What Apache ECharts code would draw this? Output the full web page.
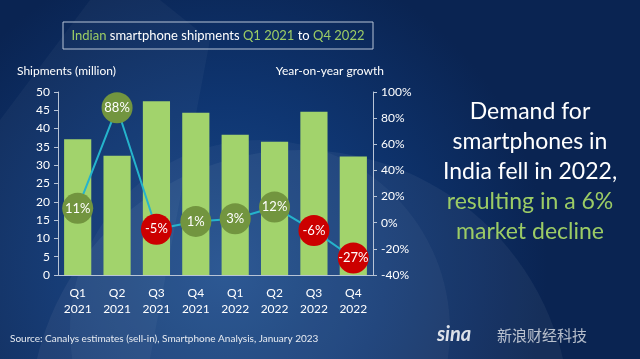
<!DOCTYPE html>
<html><head><meta charset="utf-8">
<script src="https://cdn.jsdelivr.net/npm/echarts@6/dist/echarts.min.js"></script>
<style>html,body{margin:0;padding:0;background:#0b2a58;}#c{width:640px;height:359px;}</style>
</head><body><div id="c"></div>
<script>
var quarters = ['Q1\n2021','Q2\n2021','Q3\n2021','Q4\n2021','Q1\n2022','Q2\n2022','Q3\n2022','Q4\n2022'];
var shipments = [37.1, 32.6, 47.5, 44.3, 38.3, 36.4, 44.6, 32.4];
var growth = [11, 88, -5, 1, 3, 12, -6, -27];
var leftTicks = [0,5,10,15,20,25,30,35,40,45,50];
var rightTicks = [-40,-20,0,20,40,60,80,100];

var F = 'Lato, "Open Sans", sans-serif';
var chart = echarts.init(document.getElementById('c'));
chart.setOption({
  backgroundColor: {type:'radial', x:0.35, y:0.75, r:0.9, colorStops:[{offset:0,color:'#1a4a8a'},{offset:0.5,color:'#0f3672'},{offset:1,color:'#0a2452'}]},
  textStyle:{fontFamily:F},
  graphic:[
    {type:'circle', shape:{cx:300,cy:420,r:270}, style:{fill:'rgba(255,255,255,0.05)'}, silent:true, z:-10},
    {type:'circle', shape:{cx:260,cy:330,r:190}, style:{fill:'rgba(255,255,255,0.04)'}, silent:true, z:-10},
    {type:'polygon', shape:{points:[[0,120],[0,359],[150,359],[210,40],[160,0],[90,0]]}, style:{fill:'rgba(255,255,255,0.035)'}, silent:true, z:-10},
    {type:'rect', shape:{x:63,y:22,width:310,height:27}, style:{fill:'transparent', stroke:'#b8c4d6', lineWidth:1}},
    {type:'text', x:218, y:35.5, style:{text:'{g|Indian} smartphone shipments {g|Q1 2021} to {g|Q4 2022}', align:'center', verticalAlign:'middle', fill:'#ffffff', font:'13px '+F, rich:{g:{fill:'#9ccc65', fontSize:13, fontFamily:F}}}},
    {type:'text', x:17, y:71, style:{text:'Shipments (million)', fill:'#ffffff', font:'12px '+F, verticalAlign:'middle'}},
    {type:'text', x:384, y:71, style:{text:'Year-on-year growth', fill:'#ffffff', font:'12px '+F, align:'right', verticalAlign:'middle'}},
    {type:'text', x:530, y:172, style:{text:'{w|Demand for}\n{w|smartphones in}\n{w|India fell in 2022,}\n{g|resulting in a 6%}\n{g|market decline}', align:'center', verticalAlign:'middle', lineHeight:30, rich:{w:{fill:'#ffffff', fontSize:23, fontFamily:F, lineHeight:30}, g:{fill:'#9ccc65', fontSize:23, fontFamily:F, lineHeight:30}}}},
    {type:'text', x:10, y:339, style:{text:'Source: Canalys estimates (sell-in), Smartphone Analysis, January 2023', fill:'#e8ecf2', font:'10px '+F, verticalAlign:'middle'}},
    {type:'text', x:437, y:335, style:{text:'sina', fill:'rgba(255,255,255,0.85)', font:'italic bold 20px '+F, verticalAlign:'middle'}},
    {type:'text', x:497, y:335, style:{text:'新浪财经科技', fill:'rgba(255,255,255,0.7)', font:'15px "Noto Sans CJK SC"', verticalAlign:'middle'}}
  ],
  grid:{left:58, right:267, top:92, bottom:84},
  xAxis:{type:'category', data:quarters,
    axisLine:{lineStyle:{color:'#b8c4d6'}}, axisTick:{show:false},
    axisLabel:{color:'#ffffff', fontSize:12, lineHeight:16, margin:10, fontFamily:F}},
  yAxis:[
    {type:'value', min:0, max:50, interval:5, splitLine:{show:false},
     axisLine:{show:true, lineStyle:{color:'#b8c4d6'}}, axisTick:{show:true, length:4, lineStyle:{color:'#b8c4d6'}},
     axisLabel:{color:'#ffffff', fontSize:12, margin:8, fontFamily:F}},
    {type:'value', min:-40, max:100, interval:20, splitLine:{show:false},
     axisLine:{show:true, lineStyle:{color:'#b8c4d6'}}, axisTick:{show:true, length:4, lineStyle:{color:'#b8c4d6'}},
     axisLabel:{color:'#ffffff', fontSize:12, margin:8, fontFamily:F, formatter:'{value}%'}}
  ],
  series:[
    {type:'bar', data:shipments, barWidth:'69%', itemStyle:{color:'#a2d36c'}, yAxisIndex:0},
    {type:'line', yAxisIndex:1, data:growth.map(function(v){
        return {value:v, itemStyle:{color: v<0 ? '#cc0000' : '#72953f'}};
      }),
     lineStyle:{color:'#25b4cc', width:2}, symbol:'circle', symbolSize:31, z:5,
     label:{show:true, position:'inside', color:'#ffffff', fontSize:13, fontFamily:F, formatter:function(p){return p.value+'%';}}}
  ]
});
</script></body></html>
